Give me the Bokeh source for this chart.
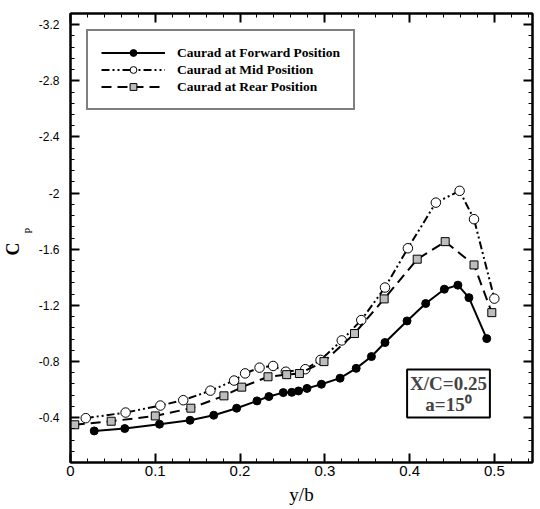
from bokeh.plotting import figure
from bokeh.models import (Range1d, LinearAxis, SingleIntervalTicker, CustomJSTickFormatter,
                          Legend, LegendItem, Label, Title)
from bokeh.embed import file_html
from bokeh.resources import INLINE

# ---- data ----
fwd_x = [0.028, 0.064, 0.105, 0.141, 0.169, 0.196, 0.220, 0.234, 0.251, 0.261, 0.269, 0.279,
         0.296, 0.318, 0.337, 0.355, 0.371, 0.397, 0.419, 0.441, 0.457, 0.470, 0.491]
fwd_y = [-0.305, -0.322, -0.353, -0.381, -0.417, -0.467, -0.519, -0.550, -0.578, -0.580, -0.590, -0.608,
         -0.638, -0.681, -0.751, -0.835, -0.935, -1.089, -1.213, -1.315, -1.344, -1.255, -0.963]

mid_x = [0.018, 0.065, 0.106, 0.133, 0.165, 0.193, 0.206, 0.223, 0.239, 0.254, 0.277, 0.295,
         0.320, 0.343, 0.371, 0.398, 0.431, 0.459, 0.476, 0.500]
mid_y = [-0.396, -0.436, -0.486, -0.524, -0.592, -0.664, -0.715, -0.756, -0.768, -0.727, -0.745, -0.811,
         -0.950, -1.095, -1.327, -1.607, -1.932, -2.016, -1.814, -1.248]

rear_x = [0.005, 0.048, 0.100, 0.142, 0.181, 0.202, 0.233, 0.255, 0.270, 0.299, 0.335, 0.370,
          0.409, 0.442, 0.476, 0.497]
rear_y = [-0.349, -0.374, -0.412, -0.467, -0.555, -0.617, -0.691, -0.706, -0.714, -0.799, -0.999, -1.246,
          -1.529, -1.654, -1.488, -1.148]

series_names = ["Caurad at Forward Position", "Caurad at Mid Position", "Caurad at Rear Position"]
x_label = "y/b"
y_label_main = "C"
y_label_sub = "P"
note_text = "X/C=0.25\na=15\u2070"

SERIF = "Liberation Serif"
SANS = "Liberation Sans"

p = figure(width=540, height=509, output_backend="svg", toolbar_location=None,
           x_range=Range1d(0, 0.545), y_range=Range1d(-0.08, -3.28),
           x_axis_location=None, y_axis_location=None,
           min_border_left=70, min_border_right=8, min_border_top=13, min_border_bottom=47)
p.xgrid.visible = False
p.ygrid.visible = False
p.outline_line_color = "black"
p.outline_line_width = 2
p.background_fill_color = "white"
p.border_fill_color = "white"

fmt = CustomJSTickFormatter(code="return String(Math.round(tick*10)/10);")
blank = CustomJSTickFormatter(code="return '';")


def make_axis(cls_kwargs, interval, labels, font_size="12px", standoff=4):
    ax = LinearAxis(ticker=SingleIntervalTicker(interval=interval, num_minor_ticks=5),
                    formatter=fmt if labels else blank, **cls_kwargs)
    ax.axis_line_width = 2
    ax.axis_line_color = "black"
    ax.major_tick_in = 9
    ax.major_tick_out = 0
    ax.minor_tick_in = 4
    ax.minor_tick_out = 0
    ax.major_tick_line_width = 2
    ax.minor_tick_line_width = 1
    ax.major_tick_line_color = "black"
    ax.minor_tick_line_color = "black"
    ax.major_label_text_font = SANS
    ax.major_label_text_color = "black"
    ax.major_label_standoff = standoff
    if labels:
        ax.major_label_text_font_size = font_size
    else:
        ax.major_label_text_font_size = "0px"
        ax.major_label_standoff = 0
    return ax

xb = make_axis(dict(axis_label=x_label), 0.1, True, "15px", 3)
xb.axis_label_text_font = SERIF
xb.axis_label_text_font_style = "normal"
xb.axis_label_text_font_size = "19px"
xb.axis_label_text_color = "black"
xb.axis_label_standoff = 5
p.add_layout(xb, "below")

yl = make_axis({}, 0.4, True, "12px", 11)
p.add_layout(yl, "left")

p.add_layout(make_axis({}, 0.1, False), "above")
p.add_layout(make_axis({}, 0.4, False), "right")

# y axis title: C with subscript P (P nearer the axis, C outside)
t_sub = Title(text=y_label_sub, align="left", offset=229, standoff=0, vertical_align="top",
              text_font=SERIF, text_font_style="normal", text_font_size="10px", text_color="black")
t_main = Title(text=y_label_main, align="left", offset=207, standoff=0,
               text_font=SERIF, text_font_style="bold", text_font_size="18px", text_color="black")
p.add_layout(t_sub, "left")
p.add_layout(t_main, "left")

# ---- series ----
l1 = p.line(fwd_x, fwd_y, line_color="black", line_width=2)
m1 = p.scatter(fwd_x, fwd_y, marker="circle", size=8, fill_color="black", line_color="black")

l2 = p.line(mid_x, mid_y, line_color="black", line_width=2, line_dash="8 3 2 3 2 3")
m2 = p.scatter(mid_x, mid_y, marker="circle", size=9.5, fill_color="white", line_color="black", line_width=1)

l3 = p.line(rear_x, rear_y, line_color="black", line_width=2, line_dash="10 6")
m3 = p.scatter(rear_x, rear_y, marker="square", size=8, fill_color="#bdbdbd", line_color="black", line_width=1)

legend = Legend(items=[LegendItem(label=series_names[0], renderers=[l1, m1]),
                       LegendItem(label=series_names[1], renderers=[l2, m2]),
                       LegendItem(label=series_names[2], renderers=[l3, m3])],
                location=(16, 352), orientation="vertical")
legend.glyph_width = 64
legend.glyph_height = 17
legend.spacing = 0
legend.padding = 13
legend.margin = 0
legend.label_standoff = 12
legend.label_height = 17
legend.label_text_font = SERIF
legend.label_text_font_style = "bold"
legend.label_text_font_size = "13.5px"
legend.label_text_color = "black"
legend.border_line_color = "black"
legend.border_line_width = 2
legend.background_fill_color = "white"
legend.background_fill_alpha = 1
p.add_layout(legend, "center")

note = Label(x=378, y=69, x_units="screen", y_units="screen", text=note_text,
             text_font=SERIF, text_font_style="bold", text_font_size="19px",
             text_align="center", text_baseline="middle", text_line_height=1.0,
             border_line_color="black", border_line_width=2,
             background_fill_color="white", padding=3)
p.add_layout(note)

open("out.html", "w").write(file_html(p, INLINE))
